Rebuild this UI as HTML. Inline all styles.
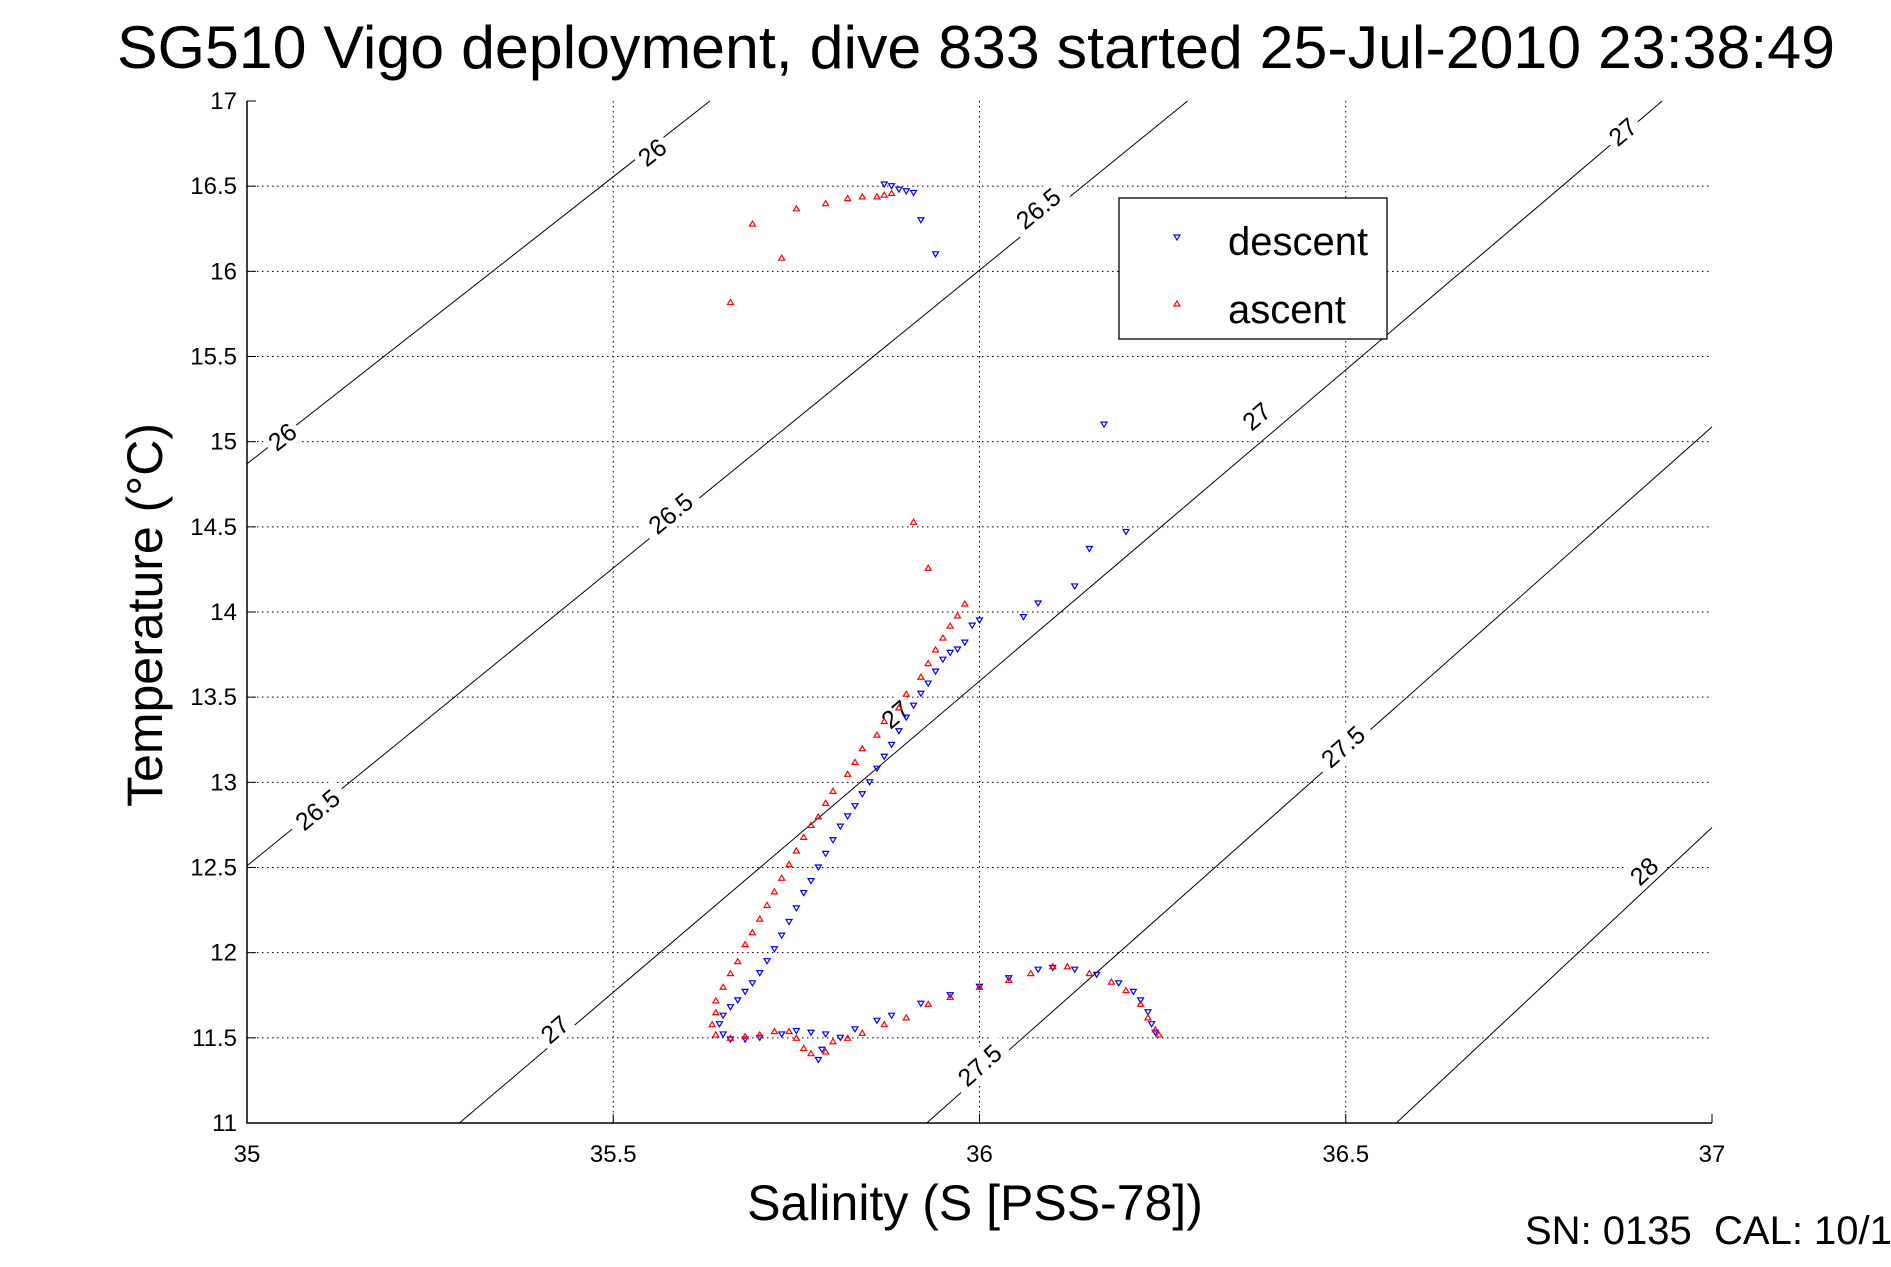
<!DOCTYPE html>
<html><head><meta charset="utf-8"><style>
body{margin:0;background:#fff}
svg text{font-family:"Liberation Sans",sans-serif;fill:#000;white-space:pre}
</style></head><body>
<svg id="chart" width="1891" height="1262" viewBox="0 0 1891 1262" xmlns="http://www.w3.org/2000/svg">
<rect width="1891" height="1262" fill="#fff"/>
<text x="976" y="68" font-size="60" text-anchor="middle" textLength="1718" lengthAdjust="spacingAndGlyphs">SG510 Vigo deployment, dive 833 started 25-Jul-2010 23:38:49</text>
<g id="grid"></g><g id="contours"></g><g id="marks"></g><g id="axes"></g>
<text x="975" y="1220" font-size="50" text-anchor="middle">Salinity (S [PSS-78])</text>
<text transform="translate(162,615) rotate(-90)" font-size="50" text-anchor="middle">Temperature (°C)</text>
<text x="1525" y="1244" font-size="40">SN: 0135  CAL: 10/1</text>
<g>
<rect x="1119" y="198" width="268" height="141" fill="#fff" stroke="#000" stroke-width="1.3"/>
<polygon points="1174,235 1180,235 1177,240" fill="none" stroke="#00f" stroke-width="1.2"/>
<text x="1228" y="255" font-size="40">descent</text>
<polygon points="1174,306 1180,306 1177,301" fill="none" stroke="#f00" stroke-width="1.2"/>
<text x="1228" y="323" font-size="40">ascent</text>
</g>
</svg>
<script>
const xTicks=[35,35.5,36,36.5,37];
const xTickLabels=["35","35.5","36","36.5","37"];
const yTicks=[11,11.5,12,12.5,13,13.5,14,14.5,15,15.5,16,16.5,17];
const yTickLabels=["11","11.5","12","12.5","13","13.5","14","14.5","15","15.5","16","16.5","17"];
const contourLevels=["26","26.5","27","27.5","28"];
const contourEnds=[[[35,14.87],[35.632,17]],[[35,12.51],[36.284,17]],[[35.29,11],[36.932,17]],[[35.928,11],[37,15.087]],[[36.569,11],[37,12.735]]];
const contourLabels=[[0,35.553,16.70],[0,35.048,15.03],[1,36.08,16.37],[1,35.578,14.58],[1,35.096,12.84],[2,36.878,16.82],[2,36.378,15.15],[2,35.885,13.4],[2,35.42,11.55],[3,36.496,13.21],[3,36.0,11.34],[4,36.907,12.48]];
const descS=[35.87,35.88,35.89,35.9,35.91,35.92,35.94,36.17,36.2,36.15,36.13,36.08,36.06,36.0,35.99,35.98,35.97,35.96,35.95,35.94,35.93,35.92,35.91,35.9,35.89,35.88,35.87,35.86,35.85,35.84,35.83,35.82,35.81,35.8,35.79,35.78,35.77,35.76,35.75,35.74,35.73,35.72,35.71,35.7,35.69,35.68,35.67,35.66,35.65,35.645,35.65,35.66,35.68,35.7,35.73,35.75,35.77,35.79,35.785,35.78,35.81,35.83,35.86,35.88,35.92,35.96,36.0,36.04,36.08,36.1,36.13,36.16,36.19,36.21,36.22,36.23,36.235,36.24];
const descT=[16.51,16.5,16.48,16.47,16.46,16.3,16.1,15.1,14.47,14.37,14.15,14.05,13.97,13.95,13.92,13.82,13.78,13.76,13.72,13.65,13.58,13.52,13.45,13.38,13.3,13.22,13.15,13.08,13.0,12.93,12.86,12.8,12.74,12.66,12.58,12.5,12.42,12.35,12.26,12.18,12.1,12.02,11.95,11.88,11.82,11.77,11.72,11.68,11.63,11.58,11.52,11.49,11.49,11.5,11.52,11.54,11.53,11.52,11.43,11.37,11.5,11.55,11.6,11.63,11.7,11.75,11.8,11.85,11.9,11.91,11.9,11.87,11.82,11.77,11.72,11.65,11.58,11.53];
const ascS=[35.66,35.69,35.73,35.75,35.79,35.82,35.84,35.86,35.87,35.88,35.91,35.93,35.98,35.97,35.96,35.95,35.94,35.93,35.92,35.9,35.89,35.87,35.86,35.84,35.83,35.82,35.8,35.79,35.78,35.77,35.76,35.75,35.74,35.73,35.72,35.71,35.7,35.69,35.68,35.67,35.66,35.65,35.64,35.64,35.635,35.64,35.66,35.68,35.7,35.72,35.74,35.75,35.76,35.77,35.79,35.8,35.82,35.84,35.87,35.9,35.93,35.96,36.0,36.04,36.07,36.1,36.12,36.15,36.18,36.2,36.22,36.23,36.24,36.245];
const ascT=[15.82,16.28,16.08,16.37,16.4,16.43,16.44,16.44,16.45,16.46,14.53,14.26,14.05,13.98,13.92,13.85,13.78,13.7,13.62,13.52,13.44,13.36,13.28,13.2,13.12,13.05,12.95,12.88,12.8,12.75,12.68,12.6,12.52,12.44,12.36,12.28,12.2,12.12,12.05,11.95,11.88,11.8,11.72,11.65,11.58,11.52,11.5,11.51,11.52,11.54,11.54,11.5,11.44,11.41,11.42,11.48,11.5,11.53,11.58,11.62,11.7,11.74,11.8,11.84,11.88,11.92,11.92,11.88,11.83,11.78,11.7,11.62,11.55,11.52];

const PL=247,PR=1712,PT=101,PB=1123;
const xs=s=>PL+(s-35)/2*(PR-PL);
const ys=t=>PB-(t-11)/6*(PB-PT);
const NS="http://www.w3.org/2000/svg";
function mk(tag,attrs,parent){const e=document.createElementNS(NS,tag);for(const k in attrs)e.setAttribute(k,attrs[k]);parent.appendChild(e);return e;}
const gridG=document.getElementById('grid'),axesG=document.getElementById('axes'),contG=document.getElementById('contours'),marksG=document.getElementById('marks');
xTicks.forEach((v,i)=>{
 const x=xs(v);
 if(i>0&&i<xTicks.length-1){const g=mk('line',{x1:x,y1:PT,x2:x,y2:PB,stroke:'#000','stroke-width':1,'stroke-dasharray':'1.5,3.5'},gridG);
 
 }
 mk('line',{x1:x,y1:PB,x2:x,y2:PB-9,stroke:'#000','stroke-width':1},axesG);
 const t=mk('text',{x:x,y:1162,'font-size':24,'text-anchor':'middle'},axesG);t.textContent=xTickLabels[i];
 
 
});
yTicks.forEach((v,i)=>{
 const y=ys(v);
 if(i>0&&i<yTicks.length-1){const g=mk('line',{x1:PL,y1:y,x2:PR,y2:y,stroke:'#000','stroke-width':1,'stroke-dasharray':'1.5,3.5'},gridG);
 
 }
 mk('line',{x1:PL,y1:y,x2:PL+9,y2:y,stroke:'#000','stroke-width':1},axesG);
 const t=mk('text',{x:237,y:y+8,'font-size':24,'text-anchor':'end'},axesG);t.textContent=yTickLabels[i];
 
 
});
const fr=mk('path',{d:`M${PL},${PT} L${PL},${PB} L${PR},${PB}`,fill:'none',stroke:'#000','stroke-width':1.5},axesG);


contourEnds.forEach((e,i)=>{
 const l=mk('line',{x1:xs(e[0][0]),y1:ys(e[0][1]),x2:xs(e[1][0]),y2:ys(e[1][1]),stroke:'#000','stroke-width':1},contG);
 
 
});
contourLabels.forEach(c=>{
 const e=contourEnds[c[0]];
 const ang=Math.atan2(ys(e[1][1])-ys(e[0][1]),xs(e[1][0])-xs(e[0][0]))*180/Math.PI;
 const x=xs(c[1]),y=ys(c[2]);const txt=contourLevels[c[0]];
 const g=mk('g',{transform:`translate(${x},${y}) rotate(${ang})`},contG);
 
 
 mk('rect',{x:-txt.length*7-4,y:-14,width:txt.length*14+8,height:28,fill:'#fff'},g);
 const t=mk('text',{x:0,y:9,'font-size':25,'text-anchor':'middle'},g);t.textContent=txt;
});
function tri(s,t,down,col,name){
 const x=xs(s),y=ys(t);
 const p=down?`${x-3},${y-2.5} ${x+3},${y-2.5} ${x},${y+2.5}`:`${x-3},${y+2.5} ${x+3},${y+2.5} ${x},${y-2.5}`;
 const e=mk('polygon',{points:p,fill:'none',stroke:col,'stroke-width':1.2},marksG);
 
 
}
descS.forEach((s,i)=>tri(s,descT[i],true,'#00f','descent-point'));
ascS.forEach((s,i)=>tri(s,ascT[i],false,'#f00','ascent-point'));
</script>
</body></html>
